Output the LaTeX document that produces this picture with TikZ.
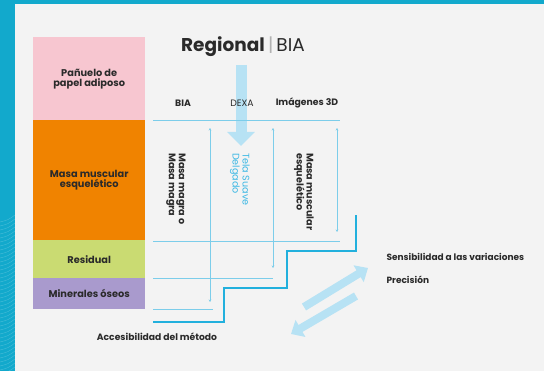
\documentclass[tikz,border=0pt]{standalone}
\usepackage{fontspec}
\setmainfont{Poppins}
\usetikzlibrary{arrows.meta}
\definecolor{bgteal}{HTML}{12A9CC}
\definecolor{panel}{HTML}{F3F3F3}
\definecolor{pinkc}{HTML}{F7C6D0}
\definecolor{orangec}{HTML}{F08300}
\definecolor{greenc}{HTML}{CADB72}
\definecolor{purplec}{HTML}{A99ACD}
\definecolor{txt}{HTML}{2A2A2A}
\definecolor{thinblue}{HTML}{7CCDEA}
\definecolor{stairblue}{HTML}{22B0DD}
\definecolor{softblue}{HTML}{B7E2F4}
\definecolor{bluetext}{HTML}{3DB8E4}
\tikzset{
  layerbox/.style={draw=none, anchor=north west, minimum width=112pt, text=txt,
    font=\fontsize{9.8}{10}\selectfont\bfseries, align=center, inner sep=0pt},
  colhead/.style={text=txt, font=\fontsize{9.3}{10}\selectfont\bfseries},
  vtext/.style={rotate=-90, anchor=west, align=left, inner sep=0pt, text=txt,
    font=\fontsize{9.6}{10}\selectfont\bfseries},
  gridline/.style={thinblue, line width=0.5pt},
  gridarrow/.style={thinblue, line width=0.5pt, {Stealth[length=2.5pt,width=2.5pt]}-{Stealth[length=2.5pt,width=2.5pt]}},
  stair/.style={stairblue, line width=2.2pt},
  fatarrow/.style={softblue, line width=8pt, -{Triangle[width=19pt,length=11pt]}},
  sidelabel/.style={text=txt, anchor=west, font=\fontsize{9}{10}\selectfont\bfseries}
}
\begin{document}
\begin{tikzpicture}[x=1pt,y=-1pt]
\useasboundingbox (0,0) rectangle (544,371);
\fill[bgteal] (0,0) rectangle (544,371);
\fill[panel] (15,4) rectangle (544,371);
\foreach \i in {0,...,38}
  \draw[white, opacity=0.22, line width=0.4pt] (0,222+4*\i) .. controls (8,220+4*\i) .. (15,215+4*\i);

% layer boxes
\node[layerbox, fill=pinkc, minimum height=83pt] (fat) at (33,37) {Pañuelo de\\papel adiposo};
\node[layerbox, fill=orangec, minimum height=120pt] (muscle) at (33,120) {Masa muscular\\esquelético};
\node[layerbox, fill=greenc, minimum height=38pt] (resid) at (33,240) {Residual};
\node[layerbox, fill=purplec, minimum height=31pt] (bone) at (33,278) {Minerales óseos};

% title
\node[text=txt, font=\fontsize{18.5}{20}\selectfont] (title) at (243,47)
  {\textbf{Regional}\,{\color{gray!60}|}\,BIA};

% big down arrow
\coordinate (dtop) at (241,65);
\coordinate (dtip) at (241,146);
\draw[softblue, line width=11pt, -{Triangle[width=27pt,length=14pt]}] (dtop) -- (dtip);

% column headers
\node[colhead] (hbia) at (183,103) {BIA};
\node[colhead, font=\fontsize{9.3}{10}\selectfont] (hdexa) at (242,103) {DEXA};
\node[colhead] (h3d) at (307,103) {Imágenes 3D};

% grid lines
\coordinate (g1a) at (153,120); \coordinate (g1b) at (340,120);
\coordinate (g2a) at (153,241); \coordinate (g2b) at (340,241);
\coordinate (g3a) at (153,278); \coordinate (g3b) at (273,278);
\coordinate (g4a) at (153,309); \coordinate (g4b) at (213,309);
\draw[gridline] (g1a) -- (g1b);
\draw[gridline] (g2a) -- (g2b);
\draw[gridline] (g3a) -- (g3b);
\draw[gridline] (g4a) -- (g4b);

\coordinate (a1t) at (210,128); \coordinate (a1b) at (210,302);
\coordinate (a2t) at (273,128); \coordinate (a2b) at (273,268);
\coordinate (a3t) at (337,128); \coordinate (a3b) at (337,232);
\draw[gridarrow] (a1t) -- (a1b);
\draw[gridarrow] (a2t) -- (a2b);
\draw[gridarrow] (a3t) -- (a3b);

% vertical texts
\node[vtext] (vbia) at (176,153) {Masa magra o\\Masa magra};
\node[vtext, text=bluetext, font=\fontsize{9.6}{10}\selectfont] (vdexa) at (240,153) {Tela Suave\\Delgado};
\node[vtext] (v3d) at (304,153) {Masa muscular\\esquelético};

% staircase
\coordinate (s0) at (153,322);
\coordinate (s1) at (224,322);
\coordinate (s2) at (224,288);
\coordinate (s3) at (287,288);
\coordinate (s4) at (287,251);
\coordinate (s5) at (356,251);
\coordinate (s6) at (356,215);
\draw[stair] (s0) -- (s1) -- (s2) -- (s3) -- (s4) -- (s5) -- (s6);

% labels
\node[text=txt, font=\fontsize{9.2}{10}\selectfont\bfseries] (access) at (157,337) {Accesibilidad del método};
\node[sidelabel] (sens) at (383,257) {Sensibilidad a las variaciones};
\node[sidelabel] (prec) at (383,280) {Precisión};

% fat diagonal arrows
\coordinate (u0) at (304,307); \coordinate (u1) at (368,268);
\coordinate (d0) at (356,296); \coordinate (d1) at (291,334);
\draw[fatarrow] (u0) -- (u1);
\draw[fatarrow] (d0) -- (d1);
\end{tikzpicture}
\end{document}
